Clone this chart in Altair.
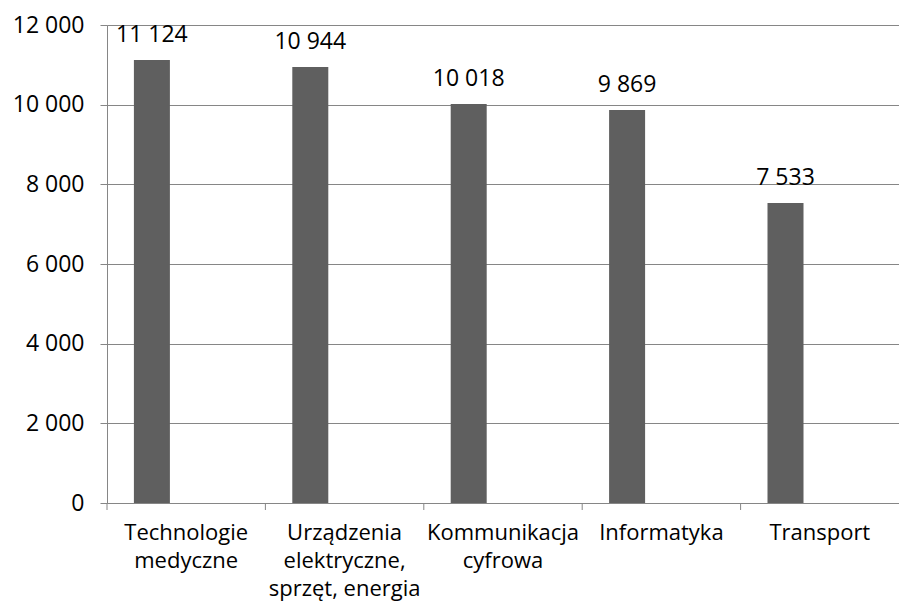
import altair as alt
import pandas as pd

categories = [
    "Technologie\nmedyczne",
    "Urządzenia\nelektryczne,\nsprzęt, energia",
    "Kommunikacja\ncyfrowa",
    "Informatyka",
    "Transport",
]
values = [11124, 10944, 10018, 9869, 7533]
y_ticks = [0, 2000, 4000, 6000, 8000, 10000, 12000]

df = pd.DataFrame({"cat": categories, "value": values})

W = 792
H = 478
band = W / len(categories)
FONT = "Open Sans"
FS = 23
FSX = 22
GRAY = "#868686"
BAR = "#5f5f5f"
BAR_SHIFT = -34.3

xscale = alt.Scale(domain=categories, paddingInner=0, paddingOuter=0)
yscale = alt.Scale(domain=[0, 12000], nice=False)

x_enc = alt.X(
    "cat:N",
    sort=None,
    scale=xscale,
    axis=alt.Axis(
        title=None,
        ticks=False,
        labelPadding=19,
        labelFont=FONT,
        labelFontSize=FSX,
        labelColor="#000000",
        labelLineHeight=28,
        labelAngle=0,
        labelOverlap=False,
        labelExpr="split(datum.label, '\\n')",
        domainColor=GRAY,
        grid=False,
    ),
)

y_enc = alt.Y(
    "value:Q",
    scale=yscale,
    axis=alt.Axis(
        title=None,
        values=y_ticks,
        tickSize=7,
        tickColor=GRAY,
        labelPadding=16,
        labelFont=FONT,
        labelFontSize=FS,
        labelColor="#000000",
        labelExpr="replace(format(datum.value, ','), ',', ' ')",
        domainColor=GRAY,
        grid=True,
        gridColor=GRAY,
        gridWidth=1,
    ),
)

bars = alt.Chart(df).mark_bar(size=36, xOffset=BAR_SHIFT, color=BAR).encode(
    x=x_enc, y=y_enc
)

labels = (
    alt.Chart(df)
    .transform_calculate(lbl="replace(format(datum.value, ','), ',', ' ')")
    .mark_text(
        xOffset=BAR_SHIFT,
        dy=-18,
        baseline="alphabetic",
        align="center",
        font=FONT,
        fontSize=FS,
        color="#000000",
    )
    .encode(x=alt.X("cat:N", sort=None, scale=xscale), y=alt.Y("value:Q", scale=yscale), text="lbl:N")
)

ticks = (
    alt.Chart(df)
    .mark_rule(xOffset=-band / 2, color=GRAY, strokeWidth=1)
    .encode(
        x=alt.X("cat:N", sort=None, scale=xscale),
        y=alt.value(H),
        y2=alt.value(H + 7),
    )
)

chart = (
    alt.layer(bars, ticks, labels)
    .properties(
        width=W,
        height=H,
        autosize=alt.AutoSizeParams(type="none"),
        padding={"left": 99, "top": 17, "right": 0, "bottom": 100},
    )
    .configure_view(stroke=None)
    .configure(background="white")
)

chart.save("out.html", embed_options={"renderer": "svg", "actions": False})
